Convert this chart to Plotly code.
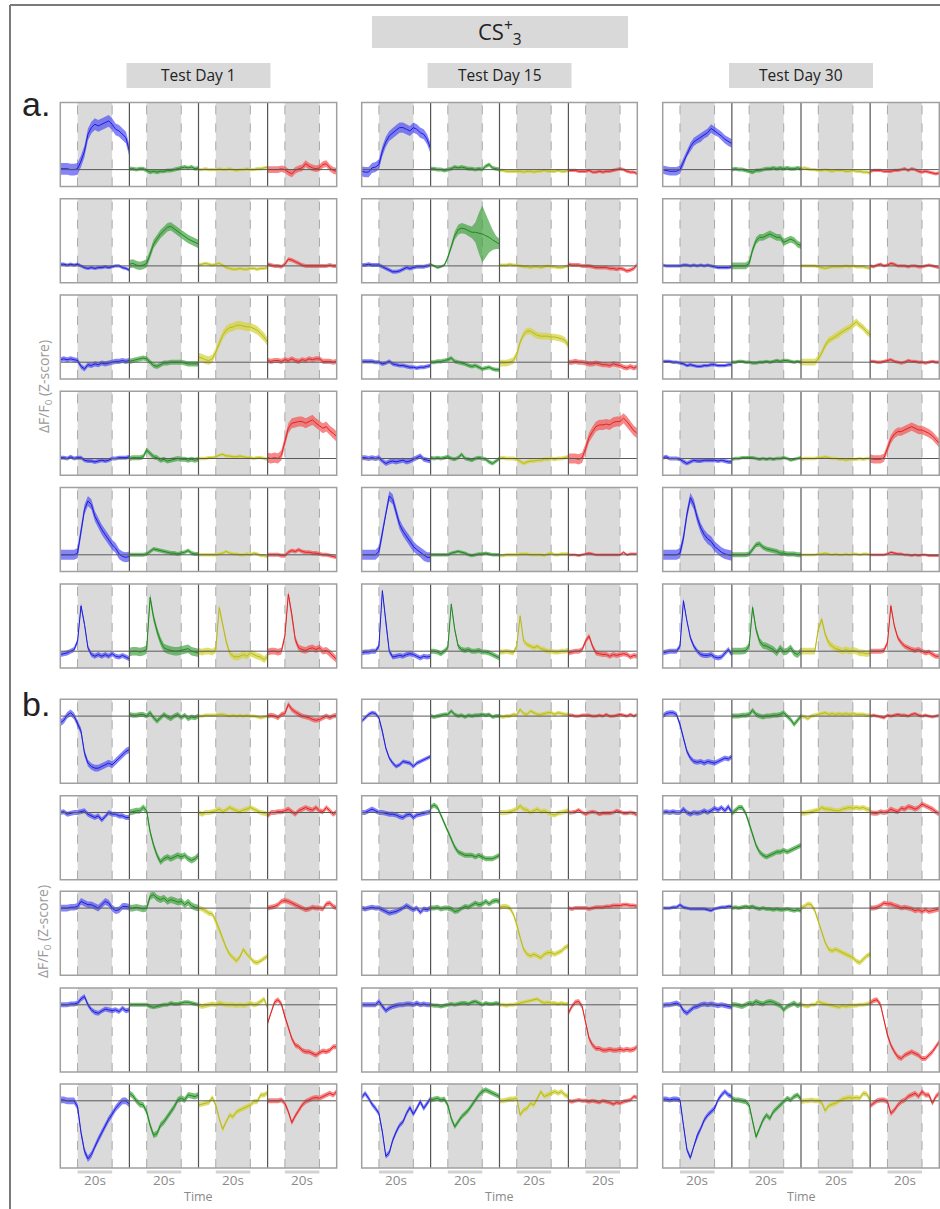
import plotly.graph_objects as go

# ---------------- data ----------------
TIME = [-10, -8, -6, -4, -2, 0, 2, 4, 6, 8, 10, 12, 14, 16, 18, 20, 22, 24, 26, 28, 30]
DAYS = ["Test Day 1", "Test Day 15", "Test Day 30"]
STIM_LABEL = "20s"

# panel a : each row = [blue, green, yellow, red]
a_d1_r1 = [[0.05,0.05,0.05,0,0,0.05,0.5,1.1,2.1,2.5,2.7,2.6,2.7,2.8,2.9,2.7,2.4,2.3,2.1,1.9,1.1],
           [0.05,0.05,0.0,0.05,0.05,-0.05,-0.15,-0.1,-0.15,-0.1,-0.1,-0.05,-0.05,0.0,0.05,0.1,0.15,0.1,0.15,0.05,0.1],
           [0,0,0.05,0,0,0,0.05,0,0,0.05,0,-0.05,0,0,0.05,0,0,0.05,0.05,0.1,0.15],
           [0,0,0,0,0.05,0,-0.15,-0.25,-0.05,0.05,0.1,0.35,0.2,0.1,0.05,0.1,0.3,0.35,0.1,-0.05,-0.1]]
a_d1_r2 = [[0.1,0.1,0.05,0.1,0.05,0.1,0,-0.1,-0.15,-0.1,-0.15,-0.1,-0.1,-0.05,-0.1,-0.05,0,0,-0.1,-0.15,-0.25],
           [0.1,0.15,0.05,0.0,0.05,0.15,0.7,1.3,1.6,1.9,2.1,2.3,2.35,2.2,2.0,1.9,1.75,1.6,1.5,1.4,1.3],
           [0.05,0.1,0.15,0.1,0.05,0.1,0.15,0.05,-0.1,-0.15,-0.2,-0.2,-0.15,-0.2,-0.2,-0.15,-0.15,-0.2,-0.15,-0.15,-0.1],
           [0.1,0.05,0,0.0,-0.05,0.1,0.4,0.35,0.25,0.15,0.05,0,0,0,0,0,0,0,0.05,0,0]]
a_d1_r3 = [[0.15,0.2,0.15,0.2,0.15,0.1,-0.25,-0.4,-0.15,-0.2,-0.1,-0.15,-0.05,-0.1,-0.05,0.0,0.05,0.05,0.1,0.05,0.1],
           [0.05,0.1,0.15,0.2,0.25,0.2,0.0,-0.2,-0.25,-0.15,-0.05,-0.05,0,0,0,0,-0.05,-0.1,-0.1,-0.1,-0.1],
           [0.3,0.25,0.15,0.1,0.2,0.6,1.1,1.6,1.9,2.05,2.1,2.2,2.2,2.15,2.1,2.1,2.0,1.9,1.7,1.5,1.2],
           [0.1,0.05,0.1,0.1,0.05,0.15,0.1,0.2,0.1,0.05,0.15,0.1,0.2,0.15,0.2,0.2,0.05,0.05,0.05,0.0,0.05]]
a_d1_r4 = [[0.05,0.05,0.0,0.1,0.0,0.05,0.05,-0.1,-0.15,-0.15,-0.2,-0.15,-0.1,-0.15,-0.1,0,0,0.05,0.05,0.05,0.1],
           [0,0.05,0.05,0.05,0.1,0.5,0.3,0.1,0.05,-0.1,-0.05,-0.15,-0.1,-0.05,0,-0.05,-0.05,-0.1,-0.05,-0.1,-0.05],
           [0,0,0,0.05,0.05,0.1,0.2,0.25,0.15,0.15,0.1,0.1,0.15,0.1,0.05,0.05,0,0.05,0.05,0,-0.05],
           [0.05,0.0,0.05,0.0,0.2,1.0,1.8,2.1,2.15,2.2,2.2,2.1,2.2,2.3,2.1,1.95,1.8,1.9,1.65,1.5,1.3]]
a_d1_r5 = [[0,0,0,0,0,0.1,1.4,2.7,3.2,3.0,2.3,1.9,1.5,1.2,0.9,0.6,0.4,0.05,-0.1,-0.15,-0.1],
           [0,0,0,0,0,0.05,0.2,0.35,0.3,0.25,0.2,0.15,0.1,0.1,0.05,0.1,0.15,0.25,0.1,0.05,0.05],
           [0,0,0,0,0,0,0.05,0.1,0.2,0.1,0.05,0.05,0,0,0.05,0,0.1,0.05,-0.05,-0.05,-0.1],
           [0,0,0,0,-0.05,-0.05,0.15,0.25,0.2,0.3,0.2,0.15,0.15,0.1,0.1,0.05,0,0,-0.05,-0.1,-0.15]]
a_d1_r6 = [[-0.2,-0.15,-0.1,0.0,0.1,0.6,2.7,1.6,0.2,-0.2,-0.3,-0.2,-0.3,-0.2,-0.3,-0.15,-0.3,-0.35,-0.25,-0.35,-0.45],
           [-0.05,0.0,0.0,-0.05,0.0,0.1,3.2,2.0,1.2,0.6,0.2,0.1,0.05,0.0,0.0,0.05,0.1,0.15,0.0,-0.05,-0.1],
           [0,-0.05,0,0,-0.05,0.1,2.6,1.6,0.6,-0.1,-0.3,-0.35,-0.3,-0.2,-0.3,-0.1,-0.2,-0.3,-0.35,-0.5,-0.3],
           [-0.05,0,0,-0.05,0,0.9,3.4,2.2,0.7,0.2,0.1,0.05,0.15,0.2,0.1,0.2,0.0,0.05,-0.1,-0.3,-0.5]]

a_d15_r1 = [[-0.1,-0.15,-0.15,0.1,0.15,0.3,1.1,1.65,2.0,2.2,2.35,2.5,2.5,2.4,2.3,2.5,2.4,2.2,2.1,1.8,1.25],
            [0.05,0.05,0.0,0.0,-0.05,0.0,0.05,0.15,0.1,0.15,0.1,0.05,0.05,0.0,0.05,0.0,0.2,0.3,0.1,0.05,0.0],
            [-0.05,-0.05,-0.1,-0.1,-0.1,-0.1,-0.1,-0.15,-0.1,-0.1,-0.15,-0.1,-0.1,-0.05,-0.1,-0.1,-0.1,-0.05,-0.1,-0.1,-0.05],
            [-0.05,-0.05,-0.05,-0.1,-0.1,-0.1,-0.05,-0.15,-0.15,-0.1,-0.15,-0.1,-0.1,-0.05,0.0,0.05,0.0,-0.1,-0.15,-0.15,-0.25]]
a_d15_r2 = [[0.05,0.05,0.1,0.05,0.05,0.05,-0.05,-0.15,-0.25,-0.35,-0.35,-0.3,-0.2,-0.1,-0.15,-0.1,-0.05,-0.05,-0.05,0.0,0.05],
            [0.1,0.0,-0.1,-0.05,0.05,0.5,1.15,1.8,2.15,2.25,2.2,2.1,2.0,2.0,1.95,1.9,1.8,1.7,1.55,1.4,1.3],
            [0.05,0.05,0.05,0.1,0.05,0.05,0.0,-0.05,-0.05,-0.1,-0.05,-0.05,-0.1,-0.05,0.0,-0.05,-0.05,-0.1,-0.1,-0.05,0.0],
            [0.1,0.05,0.05,0.05,0.0,0.0,0.0,-0.05,-0.1,-0.1,-0.1,-0.1,-0.15,-0.15,-0.2,-0.15,-0.2,-0.3,-0.25,-0.15,0.1]]
a_d15_r3 = [[0.05,0.05,0.05,0.05,0.0,0.0,-0.1,-0.05,0.05,-0.1,-0.15,-0.2,-0.2,-0.25,-0.3,-0.3,-0.35,-0.3,-0.3,-0.25,-0.2],
            [0.0,0.0,0.05,0.05,0.1,0.15,0.25,0.05,0.0,-0.05,-0.1,-0.2,-0.25,-0.2,-0.3,-0.4,-0.35,-0.3,-0.4,-0.45,-0.45],
            [-0.05,-0.05,-0.05,0.0,0.1,0.45,1.2,1.65,1.85,1.85,1.7,1.6,1.55,1.55,1.55,1.5,1.5,1.45,1.4,1.3,1.0],
            [0.0,0.0,0.05,0.0,0.0,-0.05,-0.1,-0.1,-0.05,-0.1,-0.15,-0.15,-0.2,-0.1,-0.15,-0.2,-0.3,-0.35,-0.25,-0.35,-0.25]]
a_d15_r4 = [[0.05,0.05,0.0,0.05,0.0,0.05,-0.15,-0.3,-0.2,-0.15,-0.2,-0.15,-0.1,-0.2,-0.15,-0.05,0.05,0.15,-0.05,-0.1,-0.15],
            [0.05,0.0,0.05,0.0,0.05,0.1,0.0,-0.05,0.05,0.25,0.0,-0.05,-0.1,0.0,0.05,0.0,-0.05,-0.2,-0.3,-0.15,0.0],
            [0.0,0.05,0.0,0.0,0.0,-0.05,-0.15,-0.3,-0.2,-0.15,-0.15,-0.1,-0.1,-0.05,-0.05,0.0,-0.05,0.0,0.0,0.05,0.1],
            [0.0,0.0,0.0,-0.05,0.05,0.6,1.25,1.6,1.9,2.0,2.0,2.05,2.0,2.15,2.2,2.2,2.4,2.2,1.9,1.65,1.5]]
a_d15_r5 = [[0,0,0,0,0,0.2,1.3,2.6,3.5,3.3,2.5,1.8,1.4,1.1,0.8,0.5,0.3,0.15,-0.05,-0.15,-0.15],
            [0,0,0,0,0,0,0.1,0.15,0.2,0.15,0.1,0.0,-0.05,0.0,0.05,0.05,0.1,0.05,0.0,0.0,0.0],
            [-0.05,-0.05,0,0,0,0,0.05,0.05,0.05,0.0,0.0,0.0,0.0,-0.05,0.05,0.1,0.0,0.0,0.05,0.05,0.05],
            [0,0,0,-0.05,0,0.05,0.1,0.05,0.0,0.0,0.0,0.0,0.0,0.0,0.0,0.0,0.15,0.0,0.05,0.05,0.05]]
a_d15_r6 = [[-0.1,-0.05,-0.05,0.0,0.0,0.3,3.6,1.6,0.0,-0.35,-0.3,-0.25,-0.3,-0.2,-0.15,-0.2,-0.3,-0.4,-0.3,-0.35,-0.3],
            [0.0,0.0,-0.05,-0.15,0.0,0.2,2.8,1.3,0.3,0.1,0.05,0.1,0.0,0.0,0.05,-0.05,-0.05,-0.1,-0.2,-0.3,-0.4],
            [-0.05,-0.05,0.0,-0.05,-0.1,0.3,2.1,0.6,0.4,0.3,0.2,0.3,0.15,0.1,0.0,0.0,-0.05,-0.05,0.0,0.0,0.05],
            [-0.1,-0.05,0.0,0.0,0.1,0.6,0.9,0.3,-0.1,-0.15,-0.2,-0.2,-0.3,-0.2,-0.25,-0.2,-0.15,-0.2,-0.35,-0.25,-0.3]]

a_d30_r1 = [[0.0,-0.05,-0.1,-0.1,-0.1,0.0,0.45,1.0,1.35,1.65,1.8,1.9,2.1,2.2,2.45,2.3,2.2,2.0,1.8,1.65,1.55],
            [0.0,0.05,0.0,0.0,-0.05,-0.1,-0.15,-0.05,-0.05,0.0,0.05,0.05,0.1,0.05,0.1,0.05,0.1,0.05,0.05,0.1,0.05],
            [0.05,0.1,0.05,0.0,0.0,-0.05,-0.05,0.0,-0.05,-0.1,-0.05,-0.05,-0.05,-0.1,-0.1,-0.05,-0.1,-0.1,-0.15,-0.15,-0.2],
            [-0.1,-0.05,-0.05,-0.05,-0.1,-0.1,-0.1,-0.05,-0.05,0.0,0.05,-0.05,0.05,0.0,-0.1,-0.15,-0.1,-0.15,-0.2,-0.25,-0.2]]
a_d30_r2 = [[0.05,0.0,0.0,0.0,0.0,0.0,0.05,0.05,0.0,0.05,0.0,0.05,0.0,0.05,0.0,-0.05,-0.1,-0.1,-0.1,-0.1,-0.05],
            [0.0,0.0,0.0,0.0,0.0,0.15,0.95,1.5,1.7,1.7,1.8,1.9,1.8,1.7,1.7,1.4,1.5,1.6,1.5,1.3,1.2],
            [0.0,0.0,0.0,0.0,0.0,-0.05,-0.1,-0.15,-0.1,-0.05,-0.05,-0.05,-0.05,0.0,-0.05,0.0,-0.05,-0.05,-0.05,-0.1,-0.15],
            [0.0,-0.05,0.05,0.1,0.0,0.05,0.15,0.1,0.0,0.0,0.0,-0.05,0.0,0.0,-0.05,-0.05,0.0,0.05,0.0,-0.05,-0.1]]
a_d30_r3 = [[0.05,0.05,0.05,0.0,0.0,-0.05,-0.1,-0.2,-0.15,-0.2,-0.25,-0.25,-0.2,-0.2,-0.15,-0.15,-0.2,-0.2,-0.2,-0.15,-0.15],
            [0.0,0.0,0.05,0.05,0.0,0.0,-0.05,-0.05,0.0,0.0,0.05,0.0,0.05,0.1,0.05,0.1,0.1,0.05,0.0,0.05,0.0],
            [0.0,0.0,0.0,0.0,0.0,0.2,0.55,1.0,1.3,1.4,1.55,1.65,1.85,1.95,2.05,2.2,2.4,2.2,2.05,1.8,1.65],
            [0.05,0.05,0.0,0.0,0.05,0.1,0.15,0.05,0.0,-0.05,0.0,0.1,0.05,0.05,0.0,0.0,-0.05,0.0,0.05,0.0,0.0]]
a_d30_r4 = [[0.05,0.1,0.0,0.0,0.0,-0.05,-0.2,-0.3,-0.2,-0.1,-0.15,-0.15,-0.1,-0.1,-0.1,-0.1,-0.15,-0.1,-0.15,-0.2,-0.2],
            [-0.05,0.0,0.0,0.05,0.05,0.05,0.05,0.0,-0.05,0.0,-0.05,0.0,-0.05,0.0,0.0,0.05,0.0,-0.1,-0.05,0.0,0.05],
            [-0.05,0.0,0.0,0.0,0.0,0.05,0.05,0.1,0.05,0.0,0.0,-0.05,-0.05,-0.1,-0.05,-0.05,-0.05,0.0,-0.05,0.0,0.0],
            [0.0,-0.05,-0.05,-0.05,0.05,0.6,1.15,1.45,1.6,1.6,1.7,1.8,1.9,1.8,1.7,1.7,1.6,1.5,1.35,1.15,0.9]]
a_d30_r5 = [[0,0,0,0,0,0.1,1.0,2.4,3.4,3.0,2.2,1.6,1.2,0.95,0.8,0.5,0.3,0.15,0.05,0.0,-0.05],
            [0,0,0,0,0,0.05,0.3,0.6,0.65,0.45,0.35,0.3,0.25,0.2,0.1,0.1,0.05,0.05,0.05,0.0,0.0],
            [0,0,0,0,0,0.05,0.05,0.1,0.05,0.0,0.05,0.0,0.0,0.05,0.0,0.05,0.05,0.0,0.05,0.05,0.0],
            [0,0,0,0,0,0.05,0.15,0.1,0.05,0.05,0.0,0.0,-0.05,0.0,-0.05,0.0,0.0,-0.05,-0.05,-0.05,-0.05]]
a_d30_r6 = [[-0.1,-0.05,0.0,0.0,0.0,0.3,3.0,1.8,0.8,0.3,0.0,-0.2,-0.25,-0.25,-0.2,-0.35,-0.4,-0.35,-0.1,0.1,-0.2],
            [0,0,0,0,0.05,0.3,2.6,1.3,0.6,0.35,0.3,0.2,0.1,-0.1,0.2,-0.05,0.0,0.2,-0.1,-0.2,0.0],
            [0,0,0,0,0,1.3,1.9,1.0,0.5,0.3,0.15,0.1,0.0,0.1,0.0,0.05,0.0,-0.1,-0.1,-0.15,-0.1],
            [0,0,0,0,0.05,0.5,2.7,1.5,0.8,0.5,0.3,0.2,0.1,0.05,0.1,0.0,-0.1,-0.05,-0.2,-0.3,-0.3]]

# panel b
b_d1_r1 = [[-0.4,-0.25,0.05,0.2,0.0,-0.45,-0.9,-2.2,-2.8,-3.0,-3.1,-3.1,-3.0,-2.9,-2.8,-2.9,-2.7,-2.5,-2.3,-2.1,-2.0],
           [0.1,0.05,0.05,0.1,0.1,0.0,0.2,-0.1,-0.3,-0.1,0.1,-0.05,-0.15,0.0,0.1,-0.1,0.05,-0.15,-0.05,-0.1,0.0],
           [0.0,0.0,0.05,0.05,0.05,0.05,0.1,0.1,0.05,0.0,0.05,0.0,0.05,0.0,0.05,0.0,0.0,-0.05,-0.1,-0.05,0.0],
           [0.0,0.05,0.0,-0.1,0.1,0.15,0.7,0.4,0.25,0.1,0.0,-0.05,-0.1,-0.2,-0.25,-0.2,-0.1,0.0,-0.1,0.0,0.05]]
b_d1_r2 = [[0.0,0.05,-0.1,-0.05,0.0,0.0,0.05,0.1,-0.1,-0.2,-0.3,-0.2,-0.45,-0.25,0.0,-0.1,-0.1,-0.2,-0.2,-0.3,-0.3],
           [0.0,0.05,0.1,0.1,0.3,0.1,-1.15,-1.95,-2.55,-2.95,-2.75,-2.65,-2.75,-2.65,-2.55,-2.65,-2.55,-2.75,-2.85,-2.75,-2.55],
           [0.0,-0.1,0.0,0.0,0.05,0.1,0.2,0.05,0.15,0.3,0.2,0.1,0.05,0.15,0.2,0.3,0.2,0.1,0.0,-0.05,-0.1],
           [-0.2,0.0,0.0,0.05,0.05,0.1,0.2,0.05,-0.1,0.1,0.2,0.3,0.2,0.15,0.3,0.1,0.05,0.3,0.1,-0.1,0.05]]
b_d1_r3 = [[0.0,0.0,0.0,0.05,0.05,0.1,0.4,0.3,0.2,0.2,0.1,0.0,0.2,0.4,0.3,0.0,-0.15,-0.1,0.1,0.1,0.05],
           [0.0,0.0,0.05,0.0,-0.05,0.0,0.7,0.8,0.6,0.5,0.6,0.4,0.5,0.45,0.35,0.4,0.2,0.35,0.15,0.05,0.0],
           [0.0,-0.05,-0.15,-0.3,-0.35,-0.75,-1.25,-1.85,-2.35,-2.75,-2.95,-3.15,-2.9,-2.45,-2.75,-2.95,-3.2,-3.25,-3.15,-3.0,-2.85],
           [0.0,0.05,0.1,0.2,0.4,0.45,0.4,0.3,0.2,0.1,0.0,-0.1,-0.05,0.05,0.0,0.0,-0.05,0.25,0.3,0.1,0.0]]
b_d1_r4 = [[0.0,0.0,0.0,0.05,0.05,0.1,0.35,0.5,0.0,-0.3,-0.45,-0.5,-0.35,-0.25,-0.3,-0.35,-0.3,-0.4,-0.2,-0.35,-0.3],
           [0.0,0.0,0.0,0.0,0.0,0.0,-0.1,-0.15,-0.1,-0.05,0.0,0.0,0.1,0.05,0.05,0.1,0.15,0.15,0.1,0.05,0.0],
           [0.0,-0.1,-0.05,0.0,0.05,0.0,0.1,0.05,0.0,0.0,0.0,-0.05,0.0,-0.05,0.0,0.1,0.0,0.05,0.2,0.35,-0.2],
           [-1.1,-0.4,0.15,0.3,0.05,-0.7,-1.4,-2.0,-2.4,-2.5,-2.7,-2.8,-2.8,-2.9,-3.0,-2.85,-2.75,-2.8,-2.7,-2.5,-2.5]]
b_d1_r5 = [[0.05,0.05,0.0,0.0,0.0,-0.35,-1.9,-3.0,-3.45,-3.2,-2.7,-2.3,-1.9,-1.5,-1.1,-0.8,-0.45,-0.2,0.0,0.0,-0.2],
           [0.45,0.3,0.0,-0.2,-0.25,-0.65,-1.45,-2.05,-1.95,-1.45,-1.25,-0.95,-0.65,-0.35,0.05,0.15,0.05,0.35,0.3,0.25,0.35],
           [-0.25,-0.2,-0.15,-0.1,0.2,-0.25,-1.05,-1.7,-1.25,-0.85,-0.95,-0.65,-0.55,-0.45,-0.35,-0.25,-0.05,-0.05,0.35,0.35,0.5],
           [0.0,0.0,0.0,0.0,0.05,-0.15,-0.65,-1.3,-0.9,-0.55,-0.25,-0.05,0.05,0.15,0.2,0.15,0.25,0.35,0.45,0.35,0.55]]

b_d15_r1 = [[-0.3,-0.1,0.1,0.2,0.15,-0.1,-0.9,-1.9,-2.5,-2.8,-3.0,-2.9,-2.7,-2.75,-2.8,-3.0,-2.8,-2.7,-2.6,-2.5,-2.4],
            [0.0,-0.05,0.0,0.05,0.1,0.1,0.3,0.1,0.0,0.05,-0.05,0.05,0.0,0.05,0.05,0.1,0.05,0.1,-0.05,0.0,0.0],
            [0.0,-0.05,0.0,0.0,0.1,0.05,0.4,0.15,0.1,0.3,0.2,0.1,0.1,0.15,0.2,0.2,0.1,0.2,0.15,0.1,0.1],
            [0.05,0.05,0.0,0.0,0.05,0.05,0.05,0.0,0.0,0.05,0.0,0.1,0.0,0.0,0.05,0.1,0.05,0.0,0.1,0.0,0.1]]
b_d15_r2 = [[0.0,0.0,0.1,0.2,0.1,0.0,0.0,-0.05,-0.1,-0.1,-0.15,-0.25,-0.3,-0.15,-0.1,-0.3,-0.15,-0.1,-0.05,0.0,0.05],
            [0.3,0.45,0.3,-0.15,-0.65,-1.15,-1.55,-2.05,-2.35,-2.45,-2.55,-2.55,-2.55,-2.65,-2.55,-2.65,-2.75,-2.75,-2.75,-2.65,-2.55],
            [0.0,0.0,0.0,0.05,0.1,0.2,0.4,0.2,0.15,0.0,0.1,0.2,0.05,0.1,0.0,-0.1,-0.15,-0.05,0.0,0.05,0.1],
            [0.0,0.0,0.05,0.15,0.0,-0.1,0.0,0.05,0.0,-0.1,-0.05,-0.05,-0.05,0.0,0.1,0.05,-0.05,-0.05,0.0,-0.05,-0.15]]
b_d15_r3 = [[0.0,-0.05,0.0,0.05,0.0,0.0,-0.1,-0.2,-0.3,-0.25,-0.2,-0.1,0.0,0.15,0.0,-0.1,0.0,-0.25,-0.05,-0.1,0.0],
            [0.0,0.0,0.05,-0.05,0.0,0.0,-0.05,-0.2,-0.15,0.0,0.1,0.05,0.2,0.3,0.2,0.25,0.4,0.25,0.4,0.45,0.4],
            [0.05,0.1,0.1,0.0,-0.35,-0.95,-1.75,-2.45,-2.75,-2.85,-2.75,-2.85,-2.95,-2.75,-2.65,-2.65,-2.75,-2.65,-2.55,-2.35,-2.25],
            [0.0,-0.05,0.0,0.0,0.0,0.0,-0.05,0.0,0.05,0.05,0.05,0.1,0.1,0.15,0.15,0.15,0.2,0.2,0.15,0.15,0.1]]
b_d15_r4 = [[0.0,0.0,0.0,0.0,0.0,0.2,-0.1,-0.35,-0.2,-0.1,-0.05,0.0,0.0,0.05,0.05,0.0,0.1,0.0,0.05,0.0,0.0],
            [0.0,-0.05,-0.05,-0.1,-0.05,0.0,0.05,0.0,0.05,0.1,0.1,0.05,0.15,0.2,0.1,0.0,0.1,0.05,0.05,0.1,0.05],
            [0.0,0.0,-0.05,0.0,0.0,0.05,0.1,0.15,0.2,0.25,0.3,0.35,0.2,0.1,0.15,0.1,0.1,0.05,0.1,0.05,0.05],
            [-0.5,-0.1,0.15,0.2,-0.1,-1.1,-2.0,-2.4,-2.6,-2.6,-2.7,-2.7,-2.65,-2.7,-2.7,-2.65,-2.7,-2.65,-2.7,-2.65,-2.5]]
b_d15_r5 = [[0.2,0.45,0.15,-0.2,-0.45,-0.75,-1.85,-3.3,-3.1,-2.35,-1.85,-1.45,-1.25,-0.75,-0.4,-0.8,-0.45,-0.05,-0.45,-0.15,0.15],
            [0.05,0.1,0.15,0.05,0.1,-0.25,-1.05,-1.55,-1.25,-0.95,-0.75,-0.55,-0.25,0.05,0.35,0.55,0.65,0.55,0.45,0.35,0.25],
            [0.0,0.0,0.05,0.1,0.1,0.15,-0.85,-0.55,-0.45,-0.15,-0.25,0.15,0.55,0.25,0.35,0.45,0.55,0.45,0.55,0.35,0.25],
            [0.0,-0.05,0.0,0.05,0.0,0.0,-0.05,0.0,-0.05,-0.1,0.0,-0.05,-0.1,-0.2,-0.1,-0.15,-0.05,0.0,0.05,0.25,0.2]]

b_d30_r1 = [[0.0,0.15,0.2,0.2,0.1,-0.5,-1.3,-2.1,-2.5,-2.7,-2.75,-2.7,-2.8,-2.7,-2.75,-2.8,-2.7,-2.6,-2.5,-2.55,-2.4],
            [0.0,0.0,0.0,0.05,0.05,0.1,0.35,0.1,0.0,-0.05,0.0,0.0,0.05,0.05,0.1,0.2,0.0,-0.2,-0.5,-0.25,0.0],
            [0.0,-0.05,-0.15,0.0,0.05,0.1,0.15,0.2,0.1,0.15,0.1,0.15,0.1,0.15,0.1,0.15,0.1,0.1,0.1,0.05,0.05],
            [0.0,0.05,0.0,-0.05,-0.1,0.05,0.0,0.05,0.1,0.05,0.05,0.0,0.1,0.15,0.05,0.0,0.05,0.0,-0.05,0.0,0.05]]
b_d30_r2 = [[0.0,0.05,0.0,0.05,0.0,0.0,0.2,0.0,-0.1,0.0,-0.05,0.0,0.1,0.0,0.1,0.25,0.15,0.3,0.1,0.35,0.0],
            [-0.05,0.1,0.3,0.3,-0.05,-0.65,-1.35,-1.95,-2.35,-2.55,-2.65,-2.55,-2.45,-2.35,-2.35,-2.25,-2.35,-2.25,-2.15,-2.05,-1.95],
            [-0.05,-0.05,0.0,0.05,0.1,0.15,0.3,0.2,0.2,0.15,0.1,0.1,0.2,0.25,0.3,0.25,0.3,0.25,0.3,0.2,0.15],
            [0.0,-0.05,-0.05,0.05,0.0,0.05,0.2,0.1,0.05,0.25,0.2,0.35,0.3,0.2,0.3,0.5,0.4,0.3,0.2,0.05,-0.1]]
b_d30_r3 = [[0.0,0.0,0.0,0.05,0.05,0.2,0.05,0.0,-0.05,-0.05,-0.05,-0.05,-0.05,-0.1,-0.15,-0.05,0.0,0.05,0.05,0.1,0.1],
            [0.0,0.05,0.0,0.05,0.1,0.05,0.1,0.0,-0.05,0.0,-0.05,-0.05,-0.1,-0.05,-0.1,-0.1,-0.05,-0.1,-0.15,-0.1,-0.15],
            [0.0,0.1,0.25,0.2,-0.15,-0.75,-1.35,-2.05,-2.45,-2.55,-2.45,-2.55,-2.65,-2.75,-2.85,-2.95,-3.15,-3.25,-3.05,-2.85,-2.75],
            [0.0,0.0,0.05,0.15,0.3,0.25,0.25,0.15,0.1,0.0,0.05,0.0,-0.05,-0.15,-0.1,-0.2,-0.1,-0.2,-0.15,-0.1,-0.05]]
b_d30_r4 = [[-0.05,0.0,0.0,0.05,0.1,0.0,-0.35,-0.5,-0.3,-0.15,-0.1,0.0,0.05,0.0,0.05,0.0,-0.05,0.0,-0.05,-0.1,-0.15],
            [0.0,0.0,-0.05,-0.1,0.0,0.1,0.05,0.2,0.1,0.05,0.15,0.2,0.15,0.05,-0.05,-0.3,-0.1,0.0,0.1,-0.05,0.05],
            [0.0,-0.05,-0.1,0.0,0.0,0.2,0.1,0.05,0.0,-0.05,-0.1,-0.15,-0.05,-0.1,-0.05,-0.05,-0.05,0.0,0.0,0.05,0.1],
            [0.1,0.25,0.3,0.0,-0.9,-1.8,-2.4,-2.8,-3.1,-3.2,-3.0,-2.9,-2.8,-2.9,-3.0,-3.2,-3.2,-3.0,-2.8,-2.5,-2.2]]
b_d30_r5 = [[0.1,0.1,0.05,0.1,0.1,0.05,-1.45,-2.9,-3.4,-2.65,-2.05,-1.65,-1.15,-0.85,-0.65,-0.45,0.05,0.35,0.55,0.35,0.25],
            [0.15,0.05,0.05,0.0,-0.05,-0.25,-1.25,-2.15,-1.65,-1.15,-0.85,-1.05,-0.65,-0.45,-0.25,-0.05,0.15,0.05,0.25,0.35,0.1],
            [-0.05,0.0,0.0,0.05,0.0,0.0,-0.1,-0.6,-0.3,-0.2,-0.15,0.0,0.1,0.15,0.2,0.15,0.2,0.15,0.45,0.4,0.05],
            [-0.3,-0.15,0.0,0.05,0.05,-0.05,-0.75,-0.55,-0.25,-0.05,0.05,0.25,0.35,0.45,0.25,0.55,0.35,0.35,-0.15,0.25,0.45]]

# error-band half widths (s.e.m.) per row: [blue, green, yellow, red]
a_d15_r2_green_sem = [0.08,0.08,0.08,0.08,0.08,0.12,0.2,0.25,0.3,0.3,0.3,0.3,0.35,0.6,1.2,1.7,1.3,0.9,0.6,0.4,0.3]
a_d1_sem = [[0.35,0.12,0.1,0.2],[0.1,0.25,0.1,0.12],[0.15,0.15,0.25,0.15],[0.12,0.15,0.1,0.3],[0.3,0.12,0.1,0.12],[0.15,0.25,0.2,0.2]]
a_d15_sem = [[0.3,0.12,0.1,0.1],[0.12,a_d15_r2_green_sem,0.1,0.12],[0.12,0.12,0.2,0.15],[0.15,0.12,0.12,0.3],[0.3,0.1,0.1,0.08],[0.15,0.15,0.15,0.15]]
a_d30_sem = [[0.25,0.12,0.1,0.1],[0.1,0.2,0.1,0.1],[0.1,0.1,0.2,0.1],[0.12,0.1,0.1,0.25],[0.3,0.15,0.08,0.08],[0.15,0.2,0.2,0.15]]
b_d1_sem = [[0.2,0.15,0.1,0.15],[0.15,0.18,0.15,0.15],[0.2,0.2,0.15,0.15],[0.15,0.12,0.15,0.15],[0.2,0.18,0.15,0.15]]
b_d15_sem = [[0.12,0.12,0.12,0.1],[0.15,0.15,0.15,0.12],[0.15,0.15,0.15,0.12],[0.15,0.12,0.12,0.15],[0.15,0.15,0.15,0.12]]
b_d30_sem = [[0.15,0.15,0.12,0.1],[0.15,0.15,0.15,0.15],[0.1,0.12,0.15,0.15],[0.15,0.15,0.12,0.15],[0.15,0.15,0.15,0.15]]

A_ROWS = [[a_d1_r1, a_d1_r2, a_d1_r3, a_d1_r4, a_d1_r5, a_d1_r6],
          [a_d15_r1, a_d15_r2, a_d15_r3, a_d15_r4, a_d15_r5, a_d15_r6],
          [a_d30_r1, a_d30_r2, a_d30_r3, a_d30_r4, a_d30_r5, a_d30_r6]]
B_ROWS = [[b_d1_r1, b_d1_r2, b_d1_r3, b_d1_r4, b_d1_r5],
          [b_d15_r1, b_d15_r2, b_d15_r3, b_d15_r4, b_d15_r5],
          [b_d30_r1, b_d30_r2, b_d30_r3, b_d30_r4, b_d30_r5]]
A_SEM = [a_d1_sem, a_d15_sem, a_d30_sem]
B_SEM = [b_d1_sem, b_d15_sem, b_d30_sem]

# ---------------- style / layout ----------------
W, H = 940, 1209
LINE_C = ["#1c1ce0", "#1e8a1e", "#b8b81c", "#e02424"]
FILL_C = ["rgba(75,75,245,0.68)", "rgba(60,160,60,0.68)", "rgba(212,212,60,0.72)", "rgba(245,80,80,0.68)"]
COL_X = [(60.3, 336.7), (361.7, 637.3), (662.7, 939.3)]
A_TOPS = [102.4, 198.7, 295.0, 391.3, 487.6, 584.0]
B_TOPS = [699.3, 795.7, 891.3, 988.0, 1084.0]
BOX_H = 84.0
SEG = 40  # seconds per sub-panel (-10 .. 30)
FONT = "Open Sans"

def px(v):
    return v / W

def py(v):
    return 1 - v / H

fig = go.Figure()
layout = dict(width=W, height=H, autosize=False, margin=dict(l=0, r=0, t=0, b=0),
              paper_bgcolor="white", plot_bgcolor="white", showlegend=False,
              font=dict(family=FONT, color="#333"))
shapes = []
annotations = []

for name, arr in list(globals().items()):
    if name.startswith(("a_d", "b_d")) and "_r" in name and isinstance(arr, list) and "sem" not in name:
        for s in arr:
            assert len(s) == len(TIME), (name, len(s))

axis_n = 0
bottom_axes = []
for panel, rows_all, sems_all, tops, yr in (("a", A_ROWS, A_SEM, A_TOPS, [-1, 4]),
                                            ("b", B_ROWS, B_SEM, B_TOPS, [-4, 1])):
    for d in range(3):
        for r, top in enumerate(tops):
            axis_n += 1
            sfx = "" if axis_n == 1 else str(axis_n)
            xa, ya = "x" + sfx, "y" + sfx
            layout["xaxis" + sfx] = dict(domain=[px(COL_X[d][0]), px(COL_X[d][1])], range=[0, 4 * SEG],
                                         anchor=ya, showgrid=False, zeroline=False, showticklabels=False,
                                         ticks="", showline=False, fixedrange=True)
            layout["yaxis" + sfx] = dict(domain=[py(top + BOX_H), py(top)], range=yr, anchor=xa,
                                         showgrid=False, zeroline=False, showticklabels=False,
                                         ticks="", showline=False, fixedrange=True)
            if panel == "b" and r == len(tops) - 1:
                bottom_axes.append(xa)
            for k in range(4):
                s0, s1 = 10 + SEG * k, 30 + SEG * k
                shapes.append(dict(type="rect", xref=xa, yref=ya + " domain", x0=s0, x1=s1, y0=0, y1=1,
                                   fillcolor="#dadada", line=dict(width=0), layer="below"))
                for xv in (s0, s1):
                    shapes.append(dict(type="line", xref=xa, yref=ya + " domain", x0=xv, x1=xv, y0=0, y1=1,
                                       line=dict(color="#a8a8a8", width=1, dash="dash"), layer="below"))
            series = rows_all[d][r]
            sems = sems_all[d][r]
            for k in range(4):
                xs = [t + 10 + SEG * k for t in TIME]
                ys = series[k]
                sem = sems[k]
                semv = sem if isinstance(sem, list) else [sem] * len(ys)
                up = [v + e for v, e in zip(ys, semv)]
                lo = [v - e for v, e in zip(ys, semv)]
                fig.add_trace(go.Scatter(x=xs + xs[::-1], y=up + lo[::-1], fill="toself",
                                         fillcolor=FILL_C[k], line=dict(width=0, color=FILL_C[k]),
                                         mode="lines", hoverinfo="skip", xaxis=xa, yaxis=ya))
                fig.add_trace(go.Scatter(x=xs, y=ys, mode="lines", line=dict(color=LINE_C[k], width=1),
                                         hoverinfo="skip", xaxis=xa, yaxis=ya))
            shapes.append(dict(type="line", xref=xa, yref=ya, x0=0, x1=4 * SEG, y0=0, y1=0,
                               line=dict(color="#5a5a5a", width=1), layer="above"))
            for k in range(1, 4):
                shapes.append(dict(type="line", xref=xa, yref=ya + " domain", x0=SEG * k, x1=SEG * k, y0=0, y1=1,
                                   line=dict(color="#555555", width=1.2), layer="above"))
            shapes.append(dict(type="rect", xref=xa + " domain", yref=ya + " domain", x0=0, x1=1, y0=0, y1=1,
                               line=dict(color="#a0a0a0", width=1.5), fillcolor="rgba(0,0,0,0)", layer="above"))

# stimulus bars + labels under the last row
for d, xa in enumerate(bottom_axes):
    for k in range(4):
        shapes.append(dict(type="rect", xref=xa, yref="paper", x0=10 + SEG * k, x1=30 + SEG * k,
                           y0=py(1173.5), y1=py(1170.5), fillcolor="#d2d2d2", line=dict(width=0)))
        annotations.append(dict(xref=xa, yref="paper", x=20 + SEG * k, y=py(1180), text=STIM_LABEL,
                                showarrow=False, font=dict(size=13.5, color="#8a8a8a", family=FONT),
                                xanchor="center", yanchor="middle"))
    annotations.append(dict(xref="paper", yref="paper", x=px((COL_X[d][0] + COL_X[d][1]) / 2), y=py(1196),
                            text="Time", showarrow=False, font=dict(size=12.5, color="#8a8a8a", family=FONT),
                            xanchor="center", yanchor="middle"))

# headers
shapes.append(dict(type="rect", xref="paper", yref="paper", x0=px(372), x1=px(628), y0=py(48), y1=py(16),
                   fillcolor="#d9d9d9", line=dict(width=0)))
annotations.append(dict(xref="paper", yref="paper", x=px(500), y=py(32), text="CS<sup>+</sup><sub>3</sub>",
                        showarrow=False, font=dict(size=22, color="#222", family=FONT),
                        xanchor="center", yanchor="middle"))
for d, day in enumerate(DAYS):
    cx = (COL_X[d][0] + COL_X[d][1]) / 2
    shapes.append(dict(type="rect", xref="paper", yref="paper", x0=px(cx - 72), x1=px(cx + 72),
                       y0=py(88), y1=py(63), fillcolor="#d9d9d9", line=dict(width=0)))
    annotations.append(dict(xref="paper", yref="paper", x=px(cx), y=py(75.5), text=day, showarrow=False,
                            font=dict(size=15.5, color="#222", family=FONT), xanchor="center", yanchor="middle"))

# panel letters and y labels
for letter, yc in (("a.", 104), ("b.", 704)):
    annotations.append(dict(xref="paper", yref="paper", x=px(36), y=py(yc), text=letter, showarrow=False,
                            font=dict(size=34, color="#222", family="Liberation Sans"),
                            xanchor="center", yanchor="middle"))
for yc in (387, 932):
    annotations.append(dict(xref="paper", yref="paper", x=px(44), y=py(yc),
                            text="ΔF/F<sub>0</sub> (Z-score)", textangle=-90, showarrow=False,
                            font=dict(size=14, color="#9a9a9a", family=FONT),
                            xanchor="center", yanchor="middle"))

# outer frame
shapes.append(dict(type="line", xref="paper", yref="paper", x0=px(10), x1=px(10), y0=0, y1=py(5),
                   line=dict(color="#7a7a7a", width=2)))
shapes.append(dict(type="line", xref="paper", yref="paper", x0=px(10), x1=1, y0=py(5), y1=py(5),
                   line=dict(color="#7a7a7a", width=2)))

layout["shapes"] = shapes
layout["annotations"] = annotations
fig.update_layout(**layout)
fig.write_html("out.html")
